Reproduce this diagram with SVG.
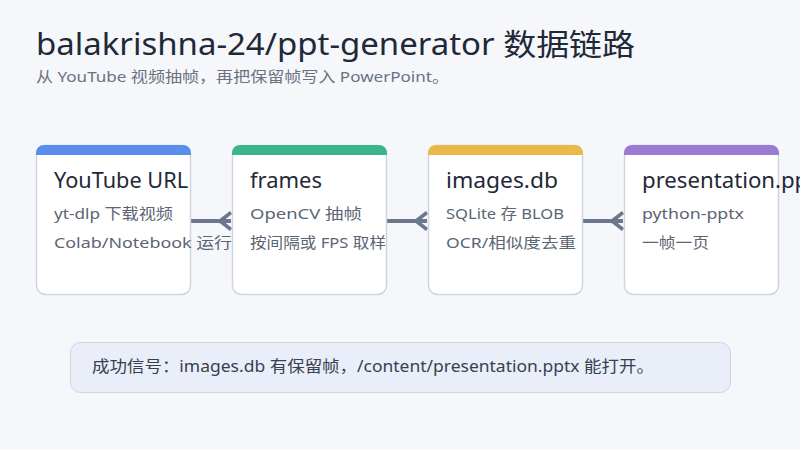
<svg xmlns="http://www.w3.org/2000/svg" width="800" height="450" viewBox="0 0 800 450">
<defs>
<style>
text{font-family:"Noto Sans","Noto Sans CJK SC",sans-serif;}
.title{font-size:30px;fill:#1f2937;}
.sub{font-size:15px;fill:#6b7280;}
.card{fill:#ffffff;stroke:#cdd5e0;stroke-width:1.5;}
.ntitle{font-size:21px;fill:#1f2937;}
.nline{font-size:15px;fill:#5b6573;}
.conn{stroke:#6b778c;stroke-width:4;fill:none;}
.note{fill:#e9eef8;stroke:#cdd5e0;stroke-width:1;}
.notetext{font-size:16px;fill:#374151;}
</style>
<marker id="crow" markerUnits="userSpaceOnUse" markerWidth="14" markerHeight="22" refX="12" refY="11" orient="auto" viewBox="0 0 14 22">
<path d="M1 11 L12 2.5 M1 11 L12 19.5 M1 11 L12 11" stroke="#6b778c" stroke-width="3.5" fill="none"/>
</marker>
</defs>
<rect width="800" height="450" fill="#f5f7fb"/>
<text class="title" x="36" y="55" textLength="599" lengthAdjust="spacingAndGlyphs">balakrishna-24/ppt-generator 数据链路</text>
<text class="sub" x="36" y="82" textLength="413" lengthAdjust="spacingAndGlyphs">从 YouTube 视频抽帧，再把保留帧写入 PowerPoint。</text>
<g id="connectors">
<line class="conn" x1="191" y1="221" x2="231" y2="221" marker-end="url(#crow)"/>
<line class="conn" x1="387" y1="221" x2="427" y2="221" marker-end="url(#crow)"/>
<line class="conn" x1="583" y1="221" x2="623" y2="221" marker-end="url(#crow)"/>
</g>
<g id="node-youtube">
<rect class="card" x="36.5" y="145.5" width="154" height="149" rx="9"/>
<path d="M36 155 V153 a8 8 0 0 1 8 -8 H183 a8 8 0 0 1 8 8 V155 Z" fill="#5b8def"/>
<text class="ntitle" x="54" y="188" textLength="134" lengthAdjust="spacingAndGlyphs">YouTube URL</text>
<text class="nline" x="54" y="219" textLength="119" lengthAdjust="spacingAndGlyphs">yt-dlp 下载视频</text>
<text class="nline" x="54" y="248" textLength="178" lengthAdjust="spacingAndGlyphs">Colab/Notebook 运行</text>
</g>
<g id="node-frames">
<rect class="card" x="232.5" y="145.5" width="154" height="149" rx="9"/>
<path d="M232 155 V153 a8 8 0 0 1 8 -8 H379 a8 8 0 0 1 8 8 V155 Z" fill="#3bb58a"/>
<text class="ntitle" x="250" y="188" textLength="72" lengthAdjust="spacingAndGlyphs">frames</text>
<text class="nline" x="250" y="219" textLength="112" lengthAdjust="spacingAndGlyphs">OpenCV 抽帧</text>
<text class="nline" x="250" y="248" textLength="136" lengthAdjust="spacingAndGlyphs">按间隔或 FPS 取样</text>
</g>
<g id="node-images">
<rect class="card" x="428.5" y="145.5" width="154" height="149" rx="9"/>
<path d="M428 155 V153 a8 8 0 0 1 8 -8 H575 a8 8 0 0 1 8 8 V155 Z" fill="#e9b949"/>
<text class="ntitle" x="446" y="188" textLength="112" lengthAdjust="spacingAndGlyphs">images.db</text>
<text class="nline" x="446" y="219" textLength="118" lengthAdjust="spacingAndGlyphs">SQLite 存 BLOB</text>
<text class="nline" x="446" y="248" textLength="130" lengthAdjust="spacingAndGlyphs">OCR/相似度去重</text>
</g>
<g id="node-pptx">
<rect class="card" x="624.5" y="145.5" width="154" height="149" rx="9"/>
<path d="M624 155 V153 a8 8 0 0 1 8 -8 H771 a8 8 0 0 1 8 8 V155 Z" fill="#9b7bd4"/>
<text class="ntitle" x="642" y="188" textLength="186" lengthAdjust="spacingAndGlyphs">presentation.pptx</text>
<text class="nline" x="642" y="219" textLength="102" lengthAdjust="spacingAndGlyphs">python-pptx</text>
<text class="nline" x="642" y="248" textLength="67" lengthAdjust="spacingAndGlyphs">一帧一页</text>
</g>
<g id="note">
<rect class="note" x="70.5" y="342.5" width="660" height="50" rx="10"/>
<text class="notetext" x="92" y="372" textLength="562" lengthAdjust="spacingAndGlyphs">成功信号：images.db 有保留帧，/content/presentation.pptx 能打开。</text>
</g>
</svg>
